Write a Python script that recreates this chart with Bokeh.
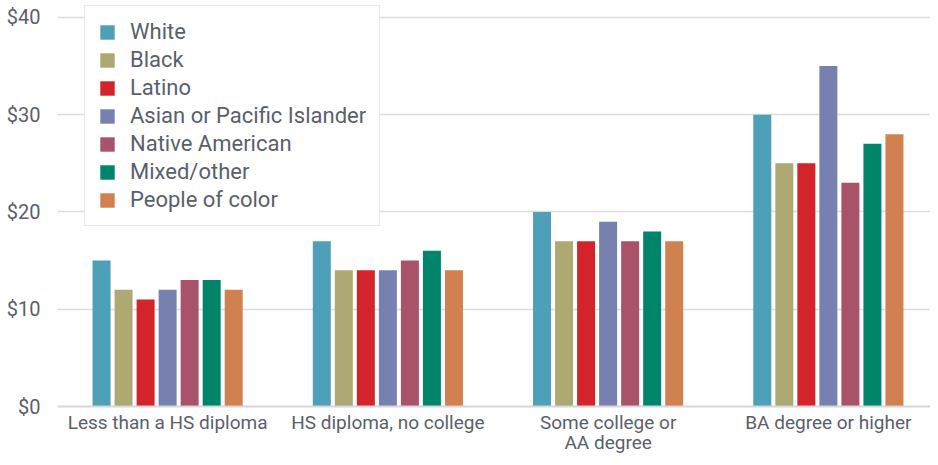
from bokeh.plotting import figure
from bokeh.models import (ColumnDataSource, Range1d, FixedTicker,
                          PrintfTickFormatter, Legend, LegendItem)
from bokeh.transform import dodge
from bokeh.embed import file_html
from bokeh.resources import INLINE

categories = ["Less than a HS diploma", "HS diploma, no college",
              "Some college or\nAA degree", "BA degree or higher"]
series = ["White", "Black", "Latino", "Asian or Pacific Islander",
          "Native American", "Mixed/other", "People of color"]
white = [15, 17, 20, 30]
black = [12, 14, 17, 25]
latino = [11, 14, 17, 25]
asian = [12, 14, 19, 35]
native = [13, 15, 17, 23]
mixed = [13, 16, 18, 27]
poc = [12, 14, 17, 28]
y_ticks = [0, 10, 20, 30, 40]

colors = ["#4e9fb8", "#aea872", "#d3232b", "#7681b0", "#a8536a", "#00856a", "#d1804f"]
keys = ["white", "black", "latino", "asian", "native", "mixed", "poc"]
values = [white, black, latino, asian, native, mixed, poc]

# categorical slots on a numeric scale: slot i is centred at i + 0.5
centers = [i + 0.5 for i in range(len(categories))]
data = {"x": centers}
for k, v in zip(keys, values):
    data[k] = v
source = ColumnDataSource(data)

TEXT = "#5a5f6b"
FONT = "Roboto"

p = figure(x_range=Range1d(0, 3.9637), y_range=Range1d(0, 41.74),
           width=930, height=457, output_backend="svg", toolbar_location=None,
           min_border_left=57, min_border_right=0, min_border_top=0,
           min_border_bottom=47)
p.outline_line_color = None
p.background_fill_color = "white"

renderers = []
offsets = [-0.3, -0.2, -0.1, 0.0, 0.1, 0.2, 0.3]
for k, c, off in zip(keys, colors, offsets):
    r = p.vbar(x=dodge("x", off), top=k, width=0.0817,
               source=source, fill_color=c, line_color=None)
    renderers.append(r)

p.xgrid.grid_line_color = None
p.ygrid.ticker = FixedTicker(ticks=y_ticks)
p.ygrid.grid_line_color = "#dcdcdc"
p.ygrid.grid_line_width = 1.5

p.yaxis.ticker = FixedTicker(ticks=y_ticks)
p.yaxis.formatter = PrintfTickFormatter(format="$%d")
p.yaxis.axis_line_color = None
p.yaxis.major_tick_line_color = None
p.yaxis.minor_tick_line_color = None
p.yaxis.major_tick_out = 0
p.yaxis.major_label_standoff = 17
p.yaxis.major_label_text_font = FONT
p.yaxis.major_label_text_font_size = "20px"
p.yaxis.major_label_text_color = TEXT

p.xaxis.ticker = FixedTicker(ticks=centers)
p.xaxis.major_label_overrides = {c: lab for c, lab in zip(centers, categories)}
p.xaxis.axis_line_color = "#d6d6dc"
p.xaxis.axis_line_width = 2
p.xaxis.major_tick_line_color = None
p.xaxis.minor_tick_line_color = None
p.xaxis.major_tick_out = 0
p.xaxis.major_tick_in = 0
p.xaxis.major_label_standoff = 4
p.xaxis.major_label_text_font = FONT
p.xaxis.major_label_text_font_size = "19px"
p.xaxis.major_label_text_color = TEXT
p.xaxis.major_label_text_line_height = 0.9

legend = Legend(items=[LegendItem(label=s, renderers=[r]) for s, r in zip(series, renderers)],
                location=(27, 180))
legend.margin = 0
legend.padding = 13
legend.spacing = 3
legend.glyph_width = 18
legend.glyph_height = 18
legend.label_standoff = 14
legend.label_text_font = FONT
legend.label_text_font_size = "22px"
legend.label_text_color = TEXT
legend.border_line_color = "#d2d2d6"
legend.border_line_width = 1.5
legend.background_fill_color = "white"
legend.background_fill_alpha = 1
p.add_layout(legend)

open("out.html", "w").write(file_html(p, INLINE))
